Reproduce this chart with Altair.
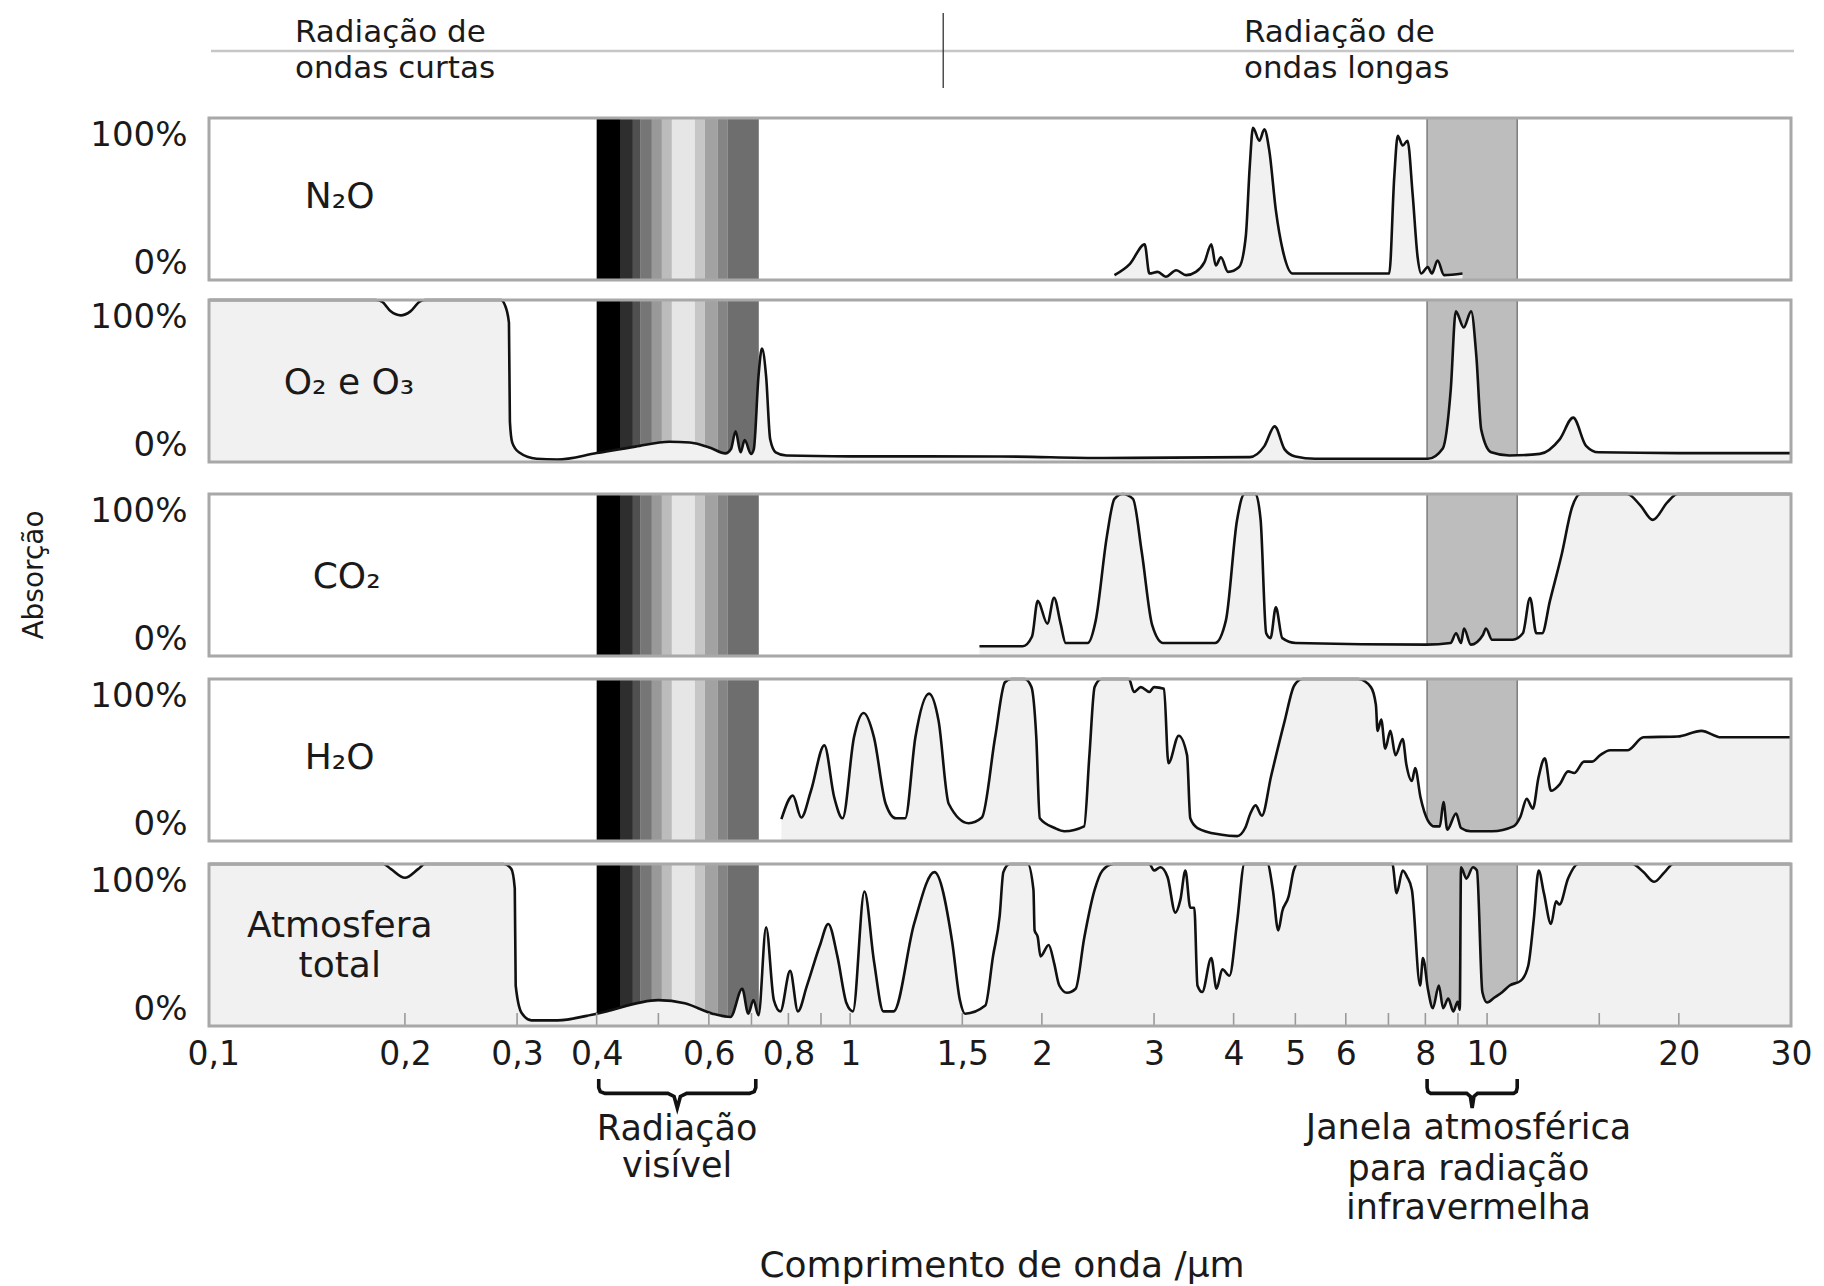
import altair as alt
import pandas as pd

W = 1582
H = 162
FONT = "DejaVu Sans"
INK = "#1a1a1a"
FILL = "#f1f1f1"

# ---------------- data (wavelength in micrometres, absorption in %) ----------------
n2o_wl = [2.60, 2.75, 2.90, 2.95, 3.04, 3.13, 3.25, 3.37, 3.49, 3.60, 3.69, 3.75, 3.82, 3.92, 4.08,
          4.18, 4.24, 4.29, 4.39, 4.47, 4.55, 4.66, 4.78, 4.95, 7.02, 7.15, 7.24, 7.37, 7.50, 7.64,
          7.78, 7.88, 8.07, 8.19, 8.36, 8.56, 9.15]
n2o_abs = [3, 10, 22, 4, 5, 2, 6, 3, 5, 11, 22, 9, 14, 5, 8,
           27, 70, 94, 86, 93, 80, 43, 18, 4, 4, 64, 89, 83, 86, 53,
           14, 4, 8, 4, 12, 3, 4]

o2o3_wl = [0.0985, 0.18, 0.184, 0.19, 0.197, 0.204, 0.211, 0.215, 0.283, 0.287, 0.2913, 0.2923, 0.2948,
           0.302, 0.322, 0.347, 0.4, 0.46, 0.52, 0.56, 0.603, 0.637, 0.65, 0.661, 0.673, 0.683, 0.699,
           0.706, 0.718, 0.727, 0.738, 0.749, 0.764, 0.794, 1.0, 1.72, 2.5, 4.24, 4.47, 4.64, 4.81, 5.0,
           5.37, 8.07, 8.52, 8.77, 8.93, 9.19, 9.44, 9.62, 9.79, 10.15, 10.84, 12.1, 13.0, 13.65, 14.3,
           14.96, 20, 30]
o2o3_abs = [100, 100, 99, 93, 90.5, 93, 99, 100, 100, 97, 86, 25, 12,
            6, 2, 1.5, 5.5, 9.5, 12.5, 12, 8.8, 5.3, 8, 19, 6, 13.5, 5,
            8, 53, 70, 53, 14, 6, 4, 3.5, 3.4, 2.5, 3, 9.8, 22, 7.8, 3.4,
            2, 2, 8.4, 45, 93, 83, 93, 65, 20, 6, 4, 5, 14, 27.4, 10,
            6, 5.5, 5.5]

co2_wl = [1.596, 1.866, 1.93, 1.97, 2.04, 2.09, 2.14, 2.18, 2.36, 2.43, 2.53, 2.60, 2.68, 2.78, 2.87,
          2.98, 3.10, 3.74, 3.89, 4.05, 4.16, 4.33, 4.41, 4.50, 4.57, 4.66, 4.77, 5.01, 8.03, 8.76,
          8.94, 9.1, 9.2, 9.43, 9.85, 9.96, 10.18, 10.97, 11.38, 11.68, 11.95, 12.2, 12.55, 13.1, 13.6,
          14.0, 16.6, 17.4, 18.2, 19.2, 19.9, 30]
co2_abs = [6, 6, 12, 34, 20, 36, 20, 8, 8, 22, 74, 97, 100, 97, 64,
           19, 8, 8, 22, 84, 100, 100, 84, 14, 11, 30, 11, 8, 7, 8,
           14, 8, 17, 7, 13, 17, 10, 10, 14, 36, 14, 14, 34, 63, 92,
           100, 100, 93, 84, 95, 100, 100]

h2o_wl = [0.78, 0.813, 0.838, 0.868, 0.911, 0.944, 0.973, 1.014, 1.05, 1.09, 1.137, 1.18, 1.22, 1.266,
          1.33, 1.377, 1.428, 1.535, 1.61, 1.689, 1.75, 1.79, 1.88, 1.926, 1.96, 1.985, 2.095, 2.17,
          2.33, 2.375, 2.42, 2.48, 2.74, 2.79, 2.86, 2.95, 3.0, 3.11, 3.16, 3.28, 3.38, 3.42, 3.51,
          3.81, 4.05, 4.17, 4.25, 4.33, 4.43, 4.58, 4.81, 4.98, 5.13, 6.28, 6.57, 6.69, 6.73, 6.82,
          6.92, 7.05, 7.18, 7.37, 7.47, 7.62, 7.71, 7.86, 8.07, 8.27, 8.43, 8.54, 8.66, 8.94, 9.1,
          9.41, 10.18, 11.0, 11.28, 11.54, 11.8, 12.04, 12.32, 12.6, 13.0, 13.4, 13.7, 14.2, 14.6,
          15.05, 15.6, 16.6, 17.6, 19.9, 21.7, 23.3, 30]
h2o_abs = [13.5, 28, 14.5, 31, 59, 27, 14, 64, 79, 64, 23, 14, 14, 64,
           91, 74, 23, 11, 14.5, 64, 98, 100, 100, 95, 64, 14, 8, 6,
           9, 53, 95, 100, 100, 92, 95, 92, 95, 94, 48, 65, 53, 14, 8,
           4, 3, 8, 17, 22, 15.6, 40, 74, 96, 100, 100, 95, 84, 68, 75,
           57, 68, 53, 63, 47, 37, 45, 27, 12.8, 9, 9, 24, 7, 17, 8,
           6, 6, 9, 15, 26, 20, 39, 51, 31, 35, 43, 42, 49, 49,
           53, 56, 56, 64, 64.5, 68, 64, 64]

total_wl = [0.0985, 0.185, 0.19, 0.2, 0.21, 0.215, 0.2857, 0.2938, 0.2975, 0.2985, 0.305, 0.316, 0.347,
            0.4, 0.5, 0.55, 0.608, 0.649, 0.677, 0.692, 0.705, 0.718, 0.738, 0.759, 0.777, 0.805,
            0.828, 0.855, 0.896, 0.924, 0.955, 0.987, 1.01, 1.053, 1.09, 1.128, 1.17, 1.26, 1.356,
            1.446, 1.487, 1.515, 1.63, 1.676, 1.717, 1.74, 1.78, 1.90, 1.94, 1.948, 1.97, 1.99, 2.05,
            2.09, 2.13, 2.19, 2.26, 2.33, 2.42, 2.49, 2.59, 2.95, 3.0, 3.07, 3.15, 3.24, 3.30, 3.36,
            3.42, 3.47, 3.51, 3.57, 3.69, 3.76, 3.84, 3.94, 4.05, 4.16, 4.52, 4.61, 4.70, 4.77, 4.88,
            4.97, 5.04, 7.1, 7.21, 7.37, 7.49, 7.62, 7.85, 7.93, 8.08, 8.22, 8.4, 8.53, 8.69, 8.85,
            8.99, 9.06, 9.1, 9.28, 9.5, 9.64, 9.83, 10.0, 10.27, 10.57, 10.85, 11.3, 11.6, 11.84,
            12.05, 12.28, 12.6, 12.83, 12.99, 13.4, 13.9, 16.9, 17.6, 18.3, 19.0, 19.6, 30]
total_abs = [100, 100, 97, 91.5, 97, 100, 100, 97, 85, 25, 8, 3.5, 3.5,
             7.6, 16, 14, 7.6, 5.6, 23, 7.6, 16, 6.6, 61, 16, 9, 34,
             9, 24.6, 49.5, 63, 43, 14, 9, 83, 40, 9, 9, 63, 95,
             52, 16, 7.6, 12.6, 43, 68, 95, 100, 100, 84, 59, 55, 43, 50,
             39, 25, 20.5, 23, 54, 84, 96, 100, 100, 96, 98, 92, 70, 78, 96,
             73, 73, 25, 21, 42, 23, 35, 31, 64, 100, 100, 84, 59, 71, 80,
             96, 100, 100, 82, 96, 92, 84, 25, 42, 22, 11, 25, 11, 17, 9,
             15, 10, 98, 91, 98, 96, 21, 14.5, 17.6, 21, 25, 28, 37, 66,
             96, 82, 63, 77, 75, 91, 100, 100, 95, 89, 95, 100, 100]

# visible-light colour bands and the infrared window
band_edges = [0.400, 0.4365, 0.456, 0.469, 0.4884, 0.5064, 0.525, 0.5706, 0.5915, 0.62, 0.6427, 0.7188]
band_colors = ["#000000", "#2e2e2e", "#505050", "#767676", "#999999", "#bcbcbc",
               "#e6e6e6", "#c6c6c6", "#a2a2a2", "#858585", "#6e6e6e"]
window_lo = [8.05]
window_hi = [11.15]

tick_values = [0.2, 0.3, 0.4, 0.5, 0.6, 0.7, 0.8, 0.9, 1, 1.5, 2, 3, 4, 5, 6, 7, 8, 9, 10, 15, 20]
label_values = [0.1, 0.2, 0.3, 0.4, 0.6, 0.8, 1, 1.5, 2, 3, 4, 5, 6, 8, 10, 20, 30]

# brace shape (fraction along the span, offset below the panel in y units)
brace_t = [0, 0, 0.01, 0.04, 0.44, 0.48, 0.5, 0.52, 0.56, 0.96, 0.99, 1, 1]
brace_dy = [-32.7, -38, -40.5, -41.6, -41.6, -43.5, -50.6, -43.5, -41.6, -41.6, -40.5, -38, -32.7]

# gaps between panels (pixels)
gaps = [20, 32, 23, 23]

# ---------------- helpers ----------------
XS = alt.Scale(type="log", domain=[0.0985, 30], nice=False)
YS = alt.Scale(domain=[0, 100], nice=False, zero=False)

X_AXIS = alt.Axis(values=label_values, labelExpr="replace(toString(datum.value), '.', ',')",
                  ticks=False, domain=False, grid=False, labelFlush=False, labelOverlap=False,
                  labelPadding=12, labelFont=FONT, labelFontSize=33, labelColor=INK, title=None)


def yaxis():
    return alt.Axis(values=[0, 100], labelExpr="datum.value + '%'", ticks=False, domain=False,
                    grid=False, labelFlush=True, labelPadding=22, labelFont=FONT,
                    labelFontSize=34, labelColor=INK, title=None)


def X(field, xaxis):
    if xaxis:
        return alt.X(field, scale=XS, axis=X_AXIS)
    return alt.X(field, scale=XS, axis=None)


def Y(field):
    return alt.Y(field, scale=YS, axis=yaxis())


def panel(wl, ab, label_lines, xaxis=False, extra=()):
    assert len(wl) == len(ab)
    cdf = pd.DataFrame({"wl": wl, "ab": ab})
    bands = pd.DataFrame({"lo": band_edges[:-1], "hi": band_edges[1:], "col": band_colors})
    win = pd.DataFrame({"lo": window_lo, "hi": window_hi})
    layers = [
        alt.Chart(bands).mark_rect().encode(
            x=X("lo:Q", xaxis), x2="hi:Q", y=alt.value(0), y2=alt.value(H),
            color=alt.Color("col:N", scale=None)),
        alt.Chart(win).mark_rect(color="#bdbdbd", stroke="#7c7c7c", strokeWidth=1.5).encode(
            x=X("lo:Q", xaxis), x2="hi:Q", y=alt.value(0), y2=alt.value(H)),
        alt.Chart(cdf).mark_area(color=FILL, interpolate="monotone").encode(
            x=X("wl:Q", xaxis), y=Y("ab:Q")),
        alt.Chart(cdf).mark_line(color="#111111", strokeWidth=2.6, interpolate="monotone").encode(
            x=X("wl:Q", xaxis), y=Y("ab:Q")),
    ]
    layers += list(extra)
    layers.append(
        alt.Chart(pd.DataFrame({"a": [0]})).mark_rect(fillOpacity=0, stroke="#a8a8a8", strokeWidth=3).encode(
            x=alt.value(0), x2=alt.value(W), y=alt.value(0), y2=alt.value(H)))
    ldf = pd.DataFrame(label_lines)
    layers.append(
        alt.Chart(ldf).mark_text(font=FONT, color=INK, align="center", baseline="middle").encode(
            x=X("wl:Q", xaxis), y=Y("ab:Q"), text="t:N", size=alt.Size("s:Q", scale=None)))
    return alt.layer(*layers).properties(width=W, height=H)


def spacer(h):
    return alt.Chart(pd.DataFrame({"a": [0]})).mark_point(opacity=0).encode(
        x=alt.value(0), y=alt.value(0)).properties(width=W, height=h)


# ---------------- header (top panel) ----------------
header = [
    alt.Chart(pd.DataFrame({"a": [0]})).mark_rule(color="#c6c6c6", strokeWidth=2.5).encode(
        x=alt.value(2), x2=alt.value(W + 3), y=alt.value(-67)),
    alt.Chart(pd.DataFrame({"wl": [1.4]})).mark_rule(color="#333333", strokeWidth=1.3).encode(
        x=X("wl:Q", False), y=alt.value(-105), y2=alt.value(-30)),
    alt.Chart(pd.DataFrame({"t": ["Radiação  de", "ondas curtas", "Radiação de", "ondas longas"],
                            "px": [86, 86, 1035, 1035], "py": [-85.5, -49.5, -85.5, -49.5]})
    ).mark_text(font=FONT, fontSize=31, color=INK, align="left", baseline="middle").encode(
        x=alt.X("px:Q", scale=None, axis=None), y=alt.Y("py:Q", scale=None, axis=None), text="t:N"),
]

# ---------------- footer (bottom panel) ----------------
def brace(lo, hi):
    return [lo * (hi / lo) ** t for t in brace_t]


brace_df = pd.DataFrame({
    "wl": brace(0.403, 0.711) + brace(8.05, 11.15),
    "dy": brace_dy + brace_dy,
    "k": ["v"] * len(brace_t) + ["j"] * len(brace_t),
    "i": list(range(len(brace_t))) * 2,
})
foot_text = pd.DataFrame({
    "wl": [0.535, 0.535, 9.35, 9.35, 9.35],
    "dy": [-63.6, -86.4, -63, -88.3, -112.3],
    "t": ["Radiação", "visível", "Janela atmosférica", "para radiação", "infravermelha"],
})
ticks_df = pd.DataFrame({"wl": tick_values})
footer = [
    alt.Chart(ticks_df).mark_rule(color="#9a9a9a", strokeWidth=1.6).encode(
        x=X("wl:Q", True), y=alt.value(H - 13), y2=alt.value(H)),
    alt.Chart(brace_df).mark_line(color="#111111", strokeWidth=3.6).encode(
        x=X("wl:Q", True), y=Y("dy:Q"), detail="k:N", order="i:Q"),
    alt.Chart(foot_text).mark_text(font=FONT, fontSize=35, color=INK, align="center",
                                   baseline="middle").encode(
        x=X("wl:Q", True), y=Y("dy:Q"), text="t:N"),
    alt.Chart(pd.DataFrame({"t": ["Comprimento de onda /μm"]})).mark_text(
        font=FONT, fontSize=36, color=INK, align="center", baseline="middle").encode(
        x=alt.value(793), y=alt.value(H + 240), text="t:N"),
]

side = [
    alt.Chart(pd.DataFrame({"t": ["Absorção"]})).mark_text(
        font=FONT, fontSize=28, color=INK, align="center", baseline="middle", angle=270).encode(
        x=alt.value(-174), y=alt.value(H / 2), text="t:N"),
]

p_n2o = panel(n2o_wl, n2o_abs, {"wl": [0.158], "ab": [51], "t": ["N₂O"], "s": [36]}, extra=header)
p_o2 = panel(o2o3_wl, o2o3_abs, {"wl": [0.1634], "ab": [49], "t": ["O₂ e O₃"], "s": [36]})
p_co2 = panel(co2_wl, co2_abs, {"wl": [0.162], "ab": [49], "t": ["CO₂"], "s": [36]}, extra=side)
p_h2o = panel(h2o_wl, h2o_abs, {"wl": [0.158], "ab": [51], "t": ["H₂O"], "s": [36]})
p_tot = panel(total_wl, total_abs,
              {"wl": [0.158, 0.158], "ab": [62, 37], "t": ["Atmosfera", "total"], "s": [36, 36]},
              xaxis=True, extra=footer)

chart = alt.vconcat(
    p_n2o, spacer(gaps[0]), p_o2, spacer(gaps[1]), p_co2, spacer(gaps[2]), p_h2o,
    spacer(gaps[3]), p_tot, spacing=0, bounds="flush"
).properties(
    padding={"left": 21, "top": 12, "right": 5, "bottom": 5},
    background="white",
).configure_view(strokeWidth=0)

chart.save("out.html", embed_options={"renderer": "svg", "actions": False})
